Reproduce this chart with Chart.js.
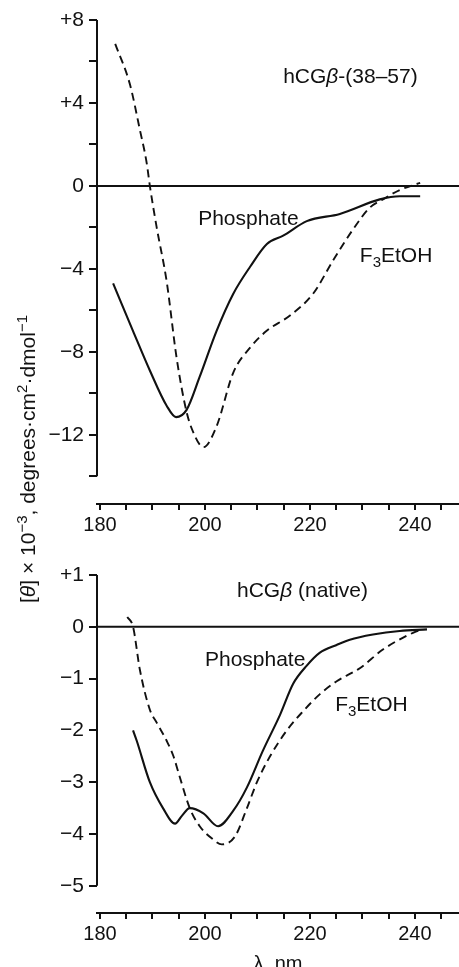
<!DOCTYPE html>
<html>
<head>
<meta charset="utf-8">
<script src="https://cdn.jsdelivr.net/npm/chart.js@4/dist/chart.umd.min.js"></script>
<style>
  body { margin: 0; background: #fff; width: 459px; height: 967px; overflow: hidden; position: relative;
         font-family: "Liberation Sans", Arial, sans-serif; }
  canvas { position: absolute; left: 0; }
  #top { top: 0; }
  #bot { top: 545px; }
  #ytitle { position: absolute; left: 28px; top: 459px; transform: translate(-50%, -50%) rotate(-90deg);
            white-space: nowrap; font-size: 21px; color: #111; }
  #ytitle sup { font-size: 15px; vertical-align: 8px; line-height: 0; }
</style>
</head>
<body>
<canvas id="top" width="459" height="545"></canvas>
<canvas id="bot" width="459" height="422"></canvas>
<div id="ytitle">[<i>θ</i>] × 10<sup>−3</sup>, degrees·cm<sup>2</sup>·dmol<sup>−1</sup></div>
<script>
// x axis (wavelength, nm)
const xTicks = [180, 185, 190, 195, 200, 205, 210, 215, 220, 225, 230, 235, 240, 245];
const xLabels = [180, 200, 220, 240];

// top panel: hCGβ-(38–57)
const topYTicks = [8, 6, 4, 2, 0, -2, -4, -6, -8, -10, -12, -14];
const topYLabels = [8, 4, 0, -4, -8, -12];
const topPhosWl  = [182.5, 186.3, 189.5, 192.7, 194.5, 196.5, 199, 202.2, 205.4, 208.6, 211.8, 214.9, 219.4, 225.7, 233.3, 237.1, 241];
const topPhosVal = [-4.7, -7.0, -8.9, -10.6, -11.15, -10.8, -9.2, -7.0, -5.2, -3.9, -2.8, -2.4, -1.7, -1.35, -0.65, -0.5, -0.5];
const topTfeWl  = [182.9, 185.7, 187.6, 188.9, 189.5, 190.8, 192.7, 194.6, 196.5, 197.8, 199.7, 202.2, 205.4, 208.6, 211.7, 216.2, 220.6, 224.4, 228.2, 231.4, 233.9, 237.1, 241];
const topTfeVal = [6.85, 4.9, 2.7, 1.1, 0, -2.0, -4.6, -8.3, -10.9, -11.9, -12.6, -11.6, -9.0, -7.8, -7.0, -6.25, -5.2, -3.6, -2.1, -1.05, -0.65, -0.2, 0.15];

// bottom panel: hCGβ (native)
const botYTicks = [1, 0, -1, -2, -3, -4, -5];
const botPhosWl  = [186.3, 187, 189.5, 192, 194.3, 195.6, 197.1, 199.7, 202.5, 205.4, 208, 211, 214.3, 216.8, 219.4, 221.9, 225.1, 227.6, 232, 237.1, 242.3];
const botPhosVal = [-2.0, -2.2, -3.0, -3.5, -3.8, -3.65, -3.5, -3.6, -3.85, -3.55, -3.1, -2.4, -1.7, -1.1, -0.75, -0.5, -0.35, -0.25, -0.15, -0.08, -0.05];
const botTfeWl  = [185.2, 186.3, 187.6, 189.5, 190.8, 192.7, 194, 195.2, 197.1, 199, 201.5, 203.2, 205.7, 208, 209.9, 212.4, 215.6, 218.7, 221.9, 225.1, 229.5, 233.9, 238.5, 241];
const botTfeVal = [0.19, 0.0, -0.83, -1.6, -1.85, -2.2, -2.5, -2.9, -3.5, -3.85, -4.1, -4.2, -4.05, -3.5, -3.0, -2.5, -2.0, -1.63, -1.3, -1.05, -0.8, -0.44, -0.17, -0.06];

const INK = '#111';
const FONT = '"Liberation Sans", Arial, sans-serif';
const X_MIN = 179.43, X_MAX = 248.4;

function pts(xs, ys) { return xs.map((x, i) => ({ x: x, y: ys[i] })); }
function signed(v) { return v > 0 ? '+' + v : v < 0 ? '\u2212' + (-v) : '0'; }

function curve(data, dashed) {
  return {
    data: data, borderColor: INK, borderWidth: dashed ? 1.9 : 2.1,
    borderDash: dashed ? [8, 5] : [], pointRadius: 0,
    cubicInterpolationMode: 'monotone', fill: false
  };
}

// y axis line only between the first and last tick (like the printed figure)
const axisLine = {
  id: 'axisLine',
  afterDraw(chart, args, opts) {
    const y = chart.scales.y, ctx = chart.ctx;
    ctx.save();
    ctx.strokeStyle = INK; ctx.lineWidth = 2;
    ctx.beginPath();
    ctx.moveTo(y.right, y.getPixelForValue(opts.from));
    ctx.lineTo(y.right, y.getPixelForValue(opts.to));
    ctx.stroke();
    ctx.restore();
  }
};

// text labels inside the plot, with italic / subscript pieces
const notes = {
  id: 'notes',
  afterDraw(chart, args, opts) {
    const ctx = chart.ctx, sx = chart.scales.x, sy = chart.scales.y;
    ctx.save();
    ctx.fillStyle = INK;
    ctx.textBaseline = 'alphabetic';
    opts.items.forEach(n => {
      let px = sx.getPixelForValue(n.x), py = sy.getPixelForValue(n.y);
      n.parts.forEach(([txt, style]) => {
        let dy = 0;
        if (style === 'i') ctx.font = 'italic 21px ' + FONT;
        else if (style === 's') { ctx.font = '15px ' + FONT; dy = 5; }
        else ctx.font = '21px ' + FONT;
        ctx.fillText(txt, px, py + dy);
        px += ctx.measureText(txt).width;
      });
    });
    ctx.restore();
  }
};

function makeChart(id, c) {
  return new Chart(document.getElementById(id), {
    type: 'line',
    data: {
      datasets: [
        { data: [{ x: X_MIN, y: 0 }, { x: X_MAX, y: 0 }], borderColor: INK, borderWidth: 2, pointRadius: 0 },
        curve(c.phos, false),
        curve(c.tfe, true)
      ]
    },
    plugins: [axisLine, notes],
    options: {
      responsive: false, animation: false,
      layout: { padding: { top: c.padTop, left: 0, right: 0, bottom: 0 } },
      plugins: {
        legend: { display: false }, tooltip: { enabled: false },
        axisLine: { from: c.yTicks[0], to: c.yTicks[c.yTicks.length - 1] },
        notes: { items: c.notes }
      },
      scales: {
        x: {
          type: 'linear', min: X_MIN, max: X_MAX,
          afterBuildTicks: s => { s.ticks = xTicks.map(v => ({ value: v })); },
          afterFit: s => { s.height = c.xHeight; },
          ticks: { autoSkip: false, maxRotation: 0, padding: 3, color: INK,
                   font: { family: FONT, size: 20 },
                   callback: v => xLabels.includes(v) ? String(v) : '' },
          grid: { drawOnChartArea: false, tickLength: 6, color: INK, lineWidth: 2 },
          border: { color: INK, width: 2 },
          title: c.xTitle ? { display: true, text: c.xTitle, color: INK, padding: { top: 0, bottom: -9 },
                              font: { family: FONT, size: 20 } } : { display: false }
        },
        y: {
          type: 'linear', min: c.yMin, max: c.yMax,
          afterBuildTicks: s => { s.ticks = c.yTicks.map(v => ({ value: v })); },
          afterFit: s => { s.width = 97; },
          ticks: { autoSkip: false, padding: 5, color: INK, font: { family: FONT, size: 21 },
                   callback: v => c.yLabels.includes(v) ? signed(v) : '' },
          grid: { drawOnChartArea: false, tickLength: 8, color: INK, lineWidth: 2 },
          border: { display: false }
        }
      }
    }
  });
}

makeChart('top', {
  phos: pts(topPhosWl, topPhosVal), tfe: pts(topTfeWl, topTfeVal),
  yMin: -15.34, yMax: 8, yTicks: topYTicks, yLabels: topYLabels,
  padTop: 20, xHeight: 41,
  notes: [
    { x: 214.9, y: 4.96, parts: [['hCG', ''], ['β', 'i'], ['-(38–57)', '']] },
    { x: 198.7, y: -1.88, parts: [['Phosphate', '']] },
    { x: 229.5, y: -3.67, parts: [['F', ''], ['3', 's'], ['EtOH', '']] }
  ]
});

makeChart('bot', {
  phos: pts(botPhosWl, botPhosVal), tfe: pts(botTfeWl, botTfeVal),
  yMin: -5.525, yMax: 1, yTicks: botYTicks, yLabels: botYTicks,
  padTop: 30, xHeight: 54, xTitle: 'λ, nm',
  notes: [
    { x: 206.1, y: 0.575, parts: [['hCG', ''], ['β', 'i'], [' (native)', '']] },
    { x: 200, y: -0.757, parts: [['Phosphate', '']] },
    { x: 224.8, y: -1.625, parts: [['F', ''], ['3', 's'], ['EtOH', '']] }
  ]
});
</script>
</body>
</html>
